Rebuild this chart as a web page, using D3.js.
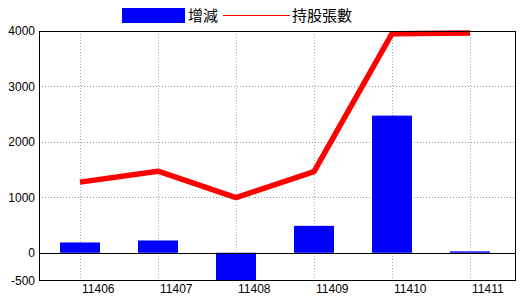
<!DOCTYPE html>
<html>
<head>
<meta charset="utf-8">
<script src="https://cdn.jsdelivr.net/npm/d3@7/dist/d3.min.js"></script>
<style>
body{margin:0;background:#fff;}
svg{display:block;}
</style>
</head>
<body>
<svg id="chart" width="520" height="300"></svg>
<script>
const months = ["11406","11407","11408","11409","11410","11411"];
const changes = [186, 222, -500, 486, 2474, 25];
const holdings = [1274, 1472, 995, 1465, 3952, 3964];
const yTicks = [-500, 0, 1000, 2000, 3000, 4000];
const gridValues = [1000, 2000, 3000];
const legendLabels = ["增減", "持股張數"];

const W = 520, H = 300;
const plot = {left: 39, right: 516, top: 31, bottom: 280};
const svg = d3.select("#chart");

const x = d3.scaleBand().domain(months).range([plot.left + 2, plot.left + 2 + 468]).paddingInner(0).paddingOuter(0);
const y = d3.scaleLinear().domain([-500, 4000]).range([plot.bottom + 0.5, plot.top]);
const cx = d => Math.round(x(d) + x.bandwidth() / 2);

svg.append("defs").append("clipPath").attr("id", "clip")
  .append("rect").attr("x", plot.left).attr("y", plot.top)
  .attr("width", plot.right - plot.left).attr("height", plot.bottom - plot.top);

// horizontal gridlines
svg.append("g").selectAll("line").data(gridValues).join("line")
  .attr("x1", plot.left).attr("x2", plot.right)
  .attr("y1", d => Math.round(y(d)) + 0.5).attr("y2", d => Math.round(y(d)) + 0.5)
  .attr("stroke", "#999").attr("stroke-dasharray", "1,2");

// vertical gridlines
svg.append("g").selectAll("line").data(months).join("line")
  .attr("x1", d => cx(d) + 0.5).attr("x2", d => cx(d) + 0.5)
  .attr("y1", plot.top).attr("y2", plot.bottom)
  .attr("stroke", "#8fb4d0").attr("stroke-dasharray", "1,2");

// bars
const barW = 40;
svg.append("g").attr("clip-path", "url(#clip)").selectAll("rect").data(months).join("rect")
  .attr("x", (d) => cx(d) - barW / 2)
  .attr("width", barW)
  .attr("y", (d, i) => y(Math.max(0, changes[i])))
  .attr("height", (d, i) => Math.abs(y(changes[i]) - y(0)))
  .attr("fill", "#0000ff");

// zero line
svg.append("line").attr("x1", plot.left).attr("x2", plot.right)
  .attr("y1", Math.round(y(0)) + 0.5).attr("y2", Math.round(y(0)) + 0.5)
  .attr("stroke", "#000");

// holdings line
const line = d3.line().x((d, i) => cx(months[i])).y(d => y(d));
svg.append("path").datum(holdings).attr("d", line)
  .attr("fill", "none").attr("stroke", "#ff0000").attr("stroke-width", 5.5)
  .attr("stroke-linejoin", "round");

// frame
svg.append("rect").attr("x", plot.left + 0.5).attr("y", plot.top + 0.5)
  .attr("width", plot.right - plot.left - 1).attr("height", plot.bottom - plot.top)
  .attr("fill", "none").attr("stroke", "#000");

// y labels
svg.append("g").selectAll("text").data(yTicks).join("text")
  .attr("x", plot.left - 4).attr("y", d => y(d))
  .attr("dy", "0.35em").attr("text-anchor", "end")
  .attr("font-family", "Liberation Sans, Arial, sans-serif").attr("font-size", 12)
  .attr("fill", "#000").text(d => d);

// x labels
svg.append("g").selectAll("text").data(months).join("text")
  .attr("x", d => cx(d) + 2).attr("y", plot.bottom + 13)
  .attr("text-anchor", "start")
  .attr("font-family", "Liberation Sans, Arial, sans-serif").attr("font-size", 12)
  .attr("fill", "#000").text(d => d);

// legend
const lg = svg.append("g");
lg.append("rect").attr("x", 122).attr("y", 8).attr("width", 63).attr("height", 15).attr("fill", "#0000ff");
lg.append("text").attr("x", 188).attr("y", 21).text(legendLabels[0])
  .attr("font-family", "Noto Sans CJK TC, sans-serif").attr("font-size", 15);
lg.append("rect").attr("x", 223).attr("y", 15).attr("width", 67).attr("height", 1)
  .attr("fill", "#ff0000").attr("shape-rendering", "crispEdges");
lg.append("text").attr("x", 292).attr("y", 21).text(legendLabels[1])
  .attr("font-family", "Noto Sans CJK TC, sans-serif").attr("font-size", 15);
</script>
</body>
</html>
